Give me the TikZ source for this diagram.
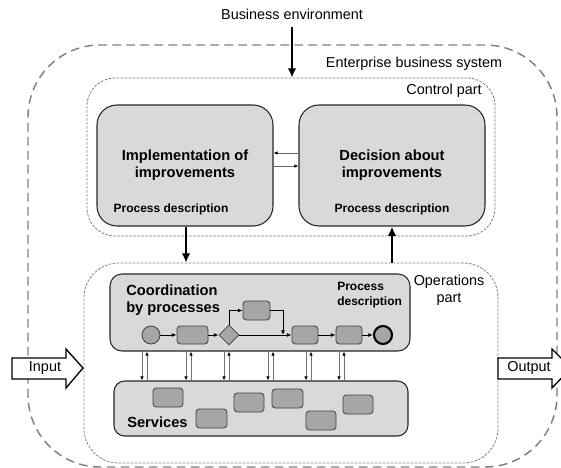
\documentclass[tikz,border=0pt]{standalone}
\usepackage{fontspec}
\setmainfont{Liberation Sans}
\usetikzlibrary{fit,arrows.meta,shapes.geometric}
\definecolor{boxgray}{RGB}{217,217,217}
\definecolor{taskgray}{RGB}{166,166,166}
\definecolor{dashgray}{RGB}{128,128,128}
\tikzset{
  sysborder/.style={draw=dashgray, line width=1.1pt, dash pattern=on 6.5pt off 4pt, rounded corners=54pt},
  partborder/.style={draw=dashgray, line width=0.6pt, dash pattern=on 2pt off 1pt},
  bigbox/.style={draw=black!85, fill=boxgray, line width=0.8pt, inner sep=0pt},
  task/.style={draw=black!75, fill=taskgray, line width=0.6pt, rounded corners=2.5pt, inner sep=0pt},
  event/.style={circle, draw=black!75, fill=taskgray, line width=0.6pt, inner sep=0pt, minimum size=13.5pt},
  gateway/.style={diamond, aspect=1, draw=black!75, fill=taskgray, line width=0.6pt, inner sep=0pt, minimum size=15pt},
  flow/.style={-{Latex[length=3.5pt,width=3pt]}, line width=0.7pt},
  link/.style={draw=black!55, line width=0.6pt, -{Latex[length=3pt,width=2.6pt,color=black]}},
  bigarrow/.style={-{Latex[length=7pt,width=6.5pt]}, line width=1.6pt},
  blockarrow/.style={draw=black, fill=white, line width=1pt},
  lbl/.style={font=\fontsize{10.8}{12.8}\selectfont, inner sep=0pt},
  title/.style={font=\fontsize{11}{12.8}\selectfont\bfseries, inner sep=0pt, align=center},
  sub/.style={font=\fontsize{9}{11.2}\selectfont\bfseries, inner sep=0pt}
}
\begin{document}
\begin{tikzpicture}[x=0.75pt,y=-0.75pt]
\useasboundingbox (0,0) rectangle (561,468);

% enterprise border and the two parts
\node[sysborder, fit={(28,45) (557,467)}, inner sep=0pt] (sys) {};
\node[partborder, rounded corners=21pt, fit={(87,78) (495,236)}, inner sep=0pt] (ctrl) {};
\node[partborder, rounded corners=26pt, fit={(84,263) (498,463)}, inner sep=0pt] (ops) {};

% labels
\node[lbl] (env) at (292,14) {Business environment};
\node[lbl] (syslbl) at (414,64) {Enterprise business system};
\node[lbl] (ctrllbl) at (444,91) {Control part};
\node[lbl, align=center] (opslbl) at (449,290) {Operations\\part};

% control part boxes
\node[bigbox, rounded corners=15pt, fit={(97,105) (273,226)}] (impl) {};
\node[bigbox, rounded corners=15pt, fit={(299,105) (485,226)}] (dec) {};
\node[title] at (185,165) {Implementation of\\improvements};
\node[sub] at (171,209) {Process description};
\node[title] at (392,165) {Decision about\\improvements};
\node[sub] at (392,209) {Process description};

\coordinate (ya) at (0,153);
\coordinate (yb) at (0,166);
\draw[link, draw=black!60] (dec.west |- ya) -- (impl.east |- ya);
\draw[link, draw=black!60] (impl.east |- yb) -- (dec.west |- yb);

% coordination box
\node[bigbox, rounded corners=9pt, fit={(110,274) (410,351)}] (coord) {};
\node[title, align=left, anchor=west, font=\fontsize{11}{12.8}\selectfont\bfseries] at (126,300) {Coordination\\by processes};
\node[sub, align=left, anchor=north west, font=\fontsize{9}{11.4}\selectfont\bfseries] at (337,282) {Process\\description};

% process flow
\node[event] (start) at (151,335) {};
\node[task, fit={(177,326) (208,344)}] (t1) {};
\node[gateway] (gw) at (229,335) {};
\node[task, fit={(243,301) (270,320)}] (tu) {};
\node[task, fit={(292,326) (318,344)}] (t3) {};
\node[task, fit={(336,326) (362,344)}] (t4) {};
\node[event, line width=1.6pt, draw=black] (end) at (383,335) {};
\coordinate (join) at (283,335);

\draw[flow] (start) -- (t1);
\draw[flow] (t1) -- (gw);
\draw[flow] (gw) -- (t3);
\draw[flow] (gw.north) |- (tu.west);
\draw[flow] (tu.east) -| (join);
\draw[flow] (t3) -- (t4);
\draw[flow] (t4) -- (end);

% services box
\node[bigbox, rounded corners=8pt, fit={(114,381) (408,436)}] (serv) {};
\node[title, anchor=west] at (127,422) {Services};
\node[task, fit={(153,388) (183,407)}] (s1) {};
\node[task, fit={(196,409) (227,428)}] (s2) {};
\node[task, fit={(234,393) (264,412)}] (s3) {};
\node[task, fit={(272,389) (303,408)}] (s4) {};
\node[task, fit={(306,411) (336,430)}] (s5) {};
\node[task, fit={(343,395) (373,414)}] (s6) {};

% calls between coordination and services
\foreach \x [count=\i] in {142,186,224,268,306,339} {
  \coordinate (dn\i) at (\x,0);
  \coordinate (up\i) at (\x+5,0);
  \draw[link] (dn\i |- coord.south) -- (dn\i |- serv.north);
  \draw[link] (up\i |- serv.north) -- (up\i |- coord.south);
}

% vertical flows between levels
\draw[bigarrow] (env.south |- 0,27) -- (env.south |- ctrl.north);
\coordinate (xi) at (186,0);
\coordinate (xd) at (392,0);
\draw[bigarrow] (xi |- impl.south) -- (xi |- ops.north);
\draw[bigarrow] (xd |- ops.north) -- (xd |- dec.south);

% input and output
\draw[blockarrow] (12,358) -- (66,358) -- (66,349) -- (83,368) -- (66,388) -- (66,379) -- (12,379) -- cycle;
\node[lbl] (inlbl) at (45,368) {Input};
\draw[blockarrow] (498,358) -- (552,358) -- (552,349) -- (571,368) -- (552,388) -- (552,379) -- (498,379) -- cycle;
\node[lbl] (outlbl) at (529,368) {Output};
\end{tikzpicture}
\end{document}
